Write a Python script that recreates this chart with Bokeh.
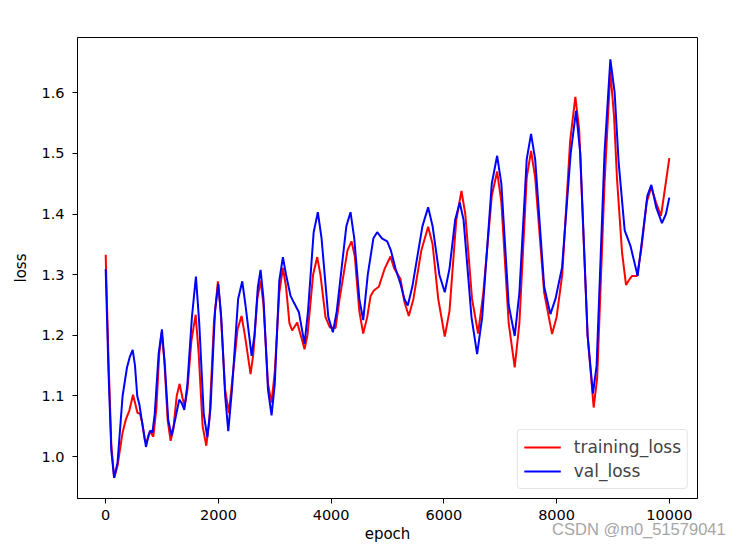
from bokeh.plotting import figure
from bokeh.models import FixedTicker, PrintfTickFormatter, Legend, LegendItem, LinearAxis, Range1d
from bokeh.embed import file_html
from bokeh.resources import INLINE

# training loss (epoch, value)
train_epoch = [0, 50, 100, 150, 210, 300, 360, 420, 485, 530, 565, 608, 650, 700, 740, 786, 845, 900, 950, 993,
               1040, 1100, 1152, 1200, 1260, 1312, 1360, 1401, 1450, 1520, 1596, 1650, 1720, 1785, 1840, 1920, 1991,
               2040, 2120, 2186, 2250, 2340, 2411, 2470, 2571, 2620, 2690, 2748, 2800, 2880, 2943, 3000, 3080, 3144,
               3200, 3260, 3308, 3398, 3460, 3528, 3580, 3680, 3753, 3810, 3900, 3977, 4078, 4150, 4290, 4362, 4420,
               4500, 4569, 4640, 4700, 4758, 4846, 4950, 5053, 5120, 5230, 5300, 5378, 5460, 5600, 5721, 5800, 5900,
               6016, 6100, 6220, 6312, 6380, 6500, 6607, 6700, 6850, 6945, 7020, 7150, 7257, 7340, 7470, 7547, 7620,
               7780, 7920, 8000, 8100, 8240, 8333, 8400, 8550, 8658, 8720, 8850, 8954, 9020, 9072, 9161, 9232, 9290,
               9339, 9427, 9500, 9600, 9681, 9760, 9852, 9920, 10000]
train_loss = [1.333, 1.16, 1.02, 0.965, 0.985, 1.04, 1.062, 1.076, 1.102, 1.085, 1.072, 1.071, 1.055, 1.025, 1.028,
              1.042, 1.033, 1.08, 1.17, 1.205,
              1.16, 1.06, 1.026, 1.045, 1.10, 1.120, 1.098, 1.083, 1.11, 1.19, 1.234, 1.17, 1.05, 1.018, 1.06, 1.22,
              1.289,
              1.24, 1.11, 1.072, 1.13, 1.21, 1.232, 1.20, 1.136, 1.17, 1.26, 1.290, 1.25, 1.12, 1.089, 1.14, 1.27,
              1.311,
              1.28, 1.22, 1.208, 1.221, 1.20, 1.177, 1.20, 1.30, 1.329, 1.30, 1.23, 1.213, 1.212, 1.26, 1.34, 1.355,
              1.33,
              1.24, 1.203, 1.23, 1.265, 1.274, 1.280, 1.31, 1.330, 1.31, 1.293, 1.255, 1.232, 1.26, 1.34, 1.379, 1.35,
              1.26,
              1.198, 1.24, 1.39, 1.438, 1.40, 1.26, 1.203, 1.27, 1.43, 1.470, 1.42, 1.22, 1.147, 1.22, 1.46, 1.504,
              1.46,
              1.27, 1.202, 1.23, 1.30, 1.52, 1.593, 1.54, 1.20, 1.081, 1.13, 1.45, 1.635, 1.56, 1.458, 1.337, 1.283,
              1.292,
              1.298, 1.298, 1.34, 1.42, 1.444, 1.42, 1.397, 1.44, 1.492]

# validation loss (epoch, value)
val_epoch = [0, 50, 100, 150, 210, 300, 378, 430, 479, 520, 560, 600, 640, 715, 760, 792, 830, 870, 940, 998,
             1050, 1110, 1170, 1230, 1305, 1350, 1395, 1450, 1530, 1601, 1660, 1740, 1803, 1860, 1940, 1998,
             2050, 2120, 2175, 2240, 2350, 2423, 2480, 2589, 2640, 2700, 2748, 2800, 2880, 2943, 3000, 3080, 3144,
             3200, 3280, 3339, 3428, 3528, 3590, 3690, 3764, 3830, 3950, 4031, 4100, 4270, 4344, 4410,
             4500, 4569, 4650, 4750, 4817, 4900, 4995, 5060, 5142, 5230, 5300, 5360, 5440, 5620, 5721, 5800, 5920,
             6016, 6100, 6200, 6282, 6350, 6490, 6590, 6680, 6850, 6945, 7020, 7150, 7257, 7340, 7470, 7547, 7620,
             7780, 7890, 7980, 8097, 8250, 8345, 8420, 8550, 8645, 8710, 8850, 8954, 9030, 9101, 9208, 9309, 9438,
             9520, 9610, 9681, 9770, 9869, 9940, 10000]
val_loss = [1.309, 1.14, 1.01, 0.965, 0.99, 1.10, 1.147, 1.165, 1.176, 1.15, 1.10, 1.085, 1.06, 1.016, 1.035, 1.043,
            1.04, 1.07, 1.17, 1.210,
            1.15, 1.06, 1.035, 1.06, 1.094, 1.088, 1.077, 1.12, 1.23, 1.297, 1.22, 1.07, 1.032, 1.08, 1.24, 1.285,
            1.23, 1.10, 1.042, 1.11, 1.26, 1.289, 1.25, 1.166, 1.20, 1.28, 1.308, 1.26, 1.11, 1.068, 1.12, 1.29, 1.329,
            1.30, 1.265, 1.254, 1.238, 1.186, 1.24, 1.37, 1.403, 1.36, 1.23, 1.205, 1.24, 1.38, 1.403, 1.36,
            1.26, 1.225, 1.30, 1.36, 1.370, 1.360, 1.355, 1.34, 1.31, 1.285, 1.26, 1.249, 1.28, 1.38, 1.411, 1.38, 1.30,
            1.271, 1.31, 1.39, 1.419, 1.39, 1.23, 1.169, 1.23, 1.45, 1.496, 1.45, 1.25, 1.199, 1.27, 1.49, 1.532, 1.49,
            1.28, 1.235, 1.26, 1.312, 1.50, 1.570, 1.50, 1.20, 1.104, 1.15, 1.50, 1.655, 1.60, 1.485, 1.373, 1.348,
            1.298,
            1.36, 1.43, 1.448, 1.41, 1.385, 1.40, 1.427]

x_ticks = [0, 2000, 4000, 6000, 8000, 10000]
y_ticks = [1.0, 1.1, 1.2, 1.3, 1.4, 1.5, 1.6]
series_names = ["training_loss", "val_loss"]
watermark = "CSDN @m0_51579041"

FONT = "DejaVu Sans"

p = figure(width=741, height=546, output_backend="svg", toolbar_location=None,
           x_range=Range1d(-500, 10500), y_range=Range1d(0.931, 1.691),
           min_border_left=77, min_border_right=44, min_border_top=37, min_border_bottom=48)
p.xgrid.visible = False
p.ygrid.visible = False
p.outline_line_color = "black"
p.outline_line_alpha = 1.0
p.outline_line_width = 1
p.background_fill_color = "white"
p.border_fill_color = "white"

r1 = p.line(train_epoch, train_loss, line_color="#ff0000", line_width=2)
r2 = p.line(val_epoch, val_loss, line_color="#0000ff", line_width=2)

for ax in (p.xaxis[0], p.yaxis[0]):
    ax.axis_line_color = "black"
    ax.major_tick_line_color = "black"
    ax.minor_tick_line_color = None
    ax.major_tick_out = 5
    ax.major_tick_in = 0
    ax.major_label_text_font = FONT
    ax.major_label_text_font_size = "14.5px"
    ax.major_label_text_color = "black"
    ax.axis_label_text_font = FONT
    ax.axis_label_text_font_size = "15px"
    ax.axis_label_text_font_style = "normal"
    ax.axis_label_text_color = "black"

p.xaxis[0].ticker = FixedTicker(ticks=x_ticks)
p.xaxis[0].formatter = PrintfTickFormatter(format="%d")
p.yaxis[0].ticker = FixedTicker(ticks=y_ticks)
p.yaxis[0].formatter = PrintfTickFormatter(format="%.1f")
p.xaxis[0].axis_label = "epoch"
p.yaxis[0].axis_label = "loss"
p.xaxis[0].major_label_standoff = 6
p.xaxis[0].axis_label_standoff = 2
p.yaxis[0].major_label_standoff = 8
p.yaxis[0].axis_label_standoff = 8

# watermark carried by an extra, invisible axis in the bottom panel (not clipped to the frame)
wm_axis = LinearAxis(ticker=FixedTicker(ticks=[9460]), major_label_overrides={9460: watermark})
wm_axis.axis_line_color = None
wm_axis.major_tick_line_color = None
wm_axis.minor_tick_line_color = None
wm_axis.major_tick_out = 0
wm_axis.major_tick_in = 0
wm_axis.major_label_standoff = -26
wm_axis.major_label_text_font = "Liberation Sans"
wm_axis.major_label_text_font_size = "16.5px"
wm_axis.major_label_text_color = "#a6a6a6"
p.add_layout(wm_axis, "below")

legend = Legend(items=[LegendItem(label=series_names[0], renderers=[r1]),
                       LegendItem(label=series_names[1], renderers=[r2])],
                location="bottom_right")
legend.label_text_font = FONT
legend.label_text_font_size = "17px"
legend.border_line_color = "#cccccc"
legend.border_line_width = 1
legend.border_radius = 4
legend.background_fill_alpha = 0.8
legend.margin = 9
legend.padding = 6
legend.spacing = 2
legend.glyph_width = 37
legend.glyph_height = 22
legend.label_standoff = 13
legend.label_height = 22
p.add_layout(legend)

open("out.html", "w").write(file_html(p, INLINE))
